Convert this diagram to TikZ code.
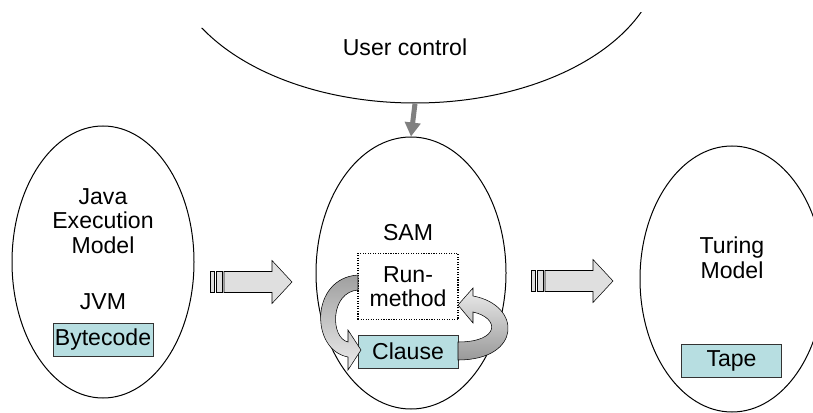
\documentclass[tikz,border=0pt]{standalone}
\usepackage{fontspec}
\setmainfont{Liberation Sans}
\usetikzlibrary{shapes.geometric, arrows.meta}
\definecolor{boxcyan}{RGB}{183,222,225}
\tikzset{
	blockarrow/.pic = {
		\draw [fill=gray!25] (0, -10.5) rectangle (4, 10.5);
		\draw [fill=gray!25] (6, -10.5) rectangle (12, 10.5);
		\draw [fill=gray!25] (14, -10.5) -- (62, -10.5) -- (62, -21.5) --
		      (82, 0) -- (62, 21.5) -- (62, 10.5) -- (14, 10.5) -- cycle;
	},
	model/.style = {draw, ellipse, inner sep=0pt, line width=0.75pt},
	cell/.style = {draw=black!80, fill=boxcyan, inner sep=0pt,
		minimum width=75pt, minimum height=25pt},
	txt/.style = {align=center, inner sep=0pt},
}

\begin{document}
\begin{tikzpicture}[x=0.75pt, y=-0.75pt, font=\fontsize{17.3}{18.4}\selectfont]
	\useasboundingbox (0, 0) rectangle (813, 413);
	\clip (0, 0) rectangle (813, 413);
	% the user: only the lower arc shows
	\begin{scope}
		\clip (0, 35.3) -- (813, 5.8) -- (813, 413) -- (0, 413) -- cycle;
		\node [model, minimum width=369pt, minimum height=225pt] (user) at (415, -47) {};
	\end{scope}
	% the three models
	\node [model, minimum width=136.5pt, minimum height=204pt] (java) at (103, 262) {};
	\node [model, minimum width=142.5pt, minimum height=204pt] (sam) at (411, 273) {};
	\node [model, minimum width=138pt, minimum height=199.5pt] (turing) at (732, 279) {};
	\node [txt] (usertxt) at (405, 47) {User control};
	\draw [gray, line width=3.75pt, -{Triangle[width=11.5pt, length=10.5pt]}] (user.south) -- (sam.north);
	% java
	\node [txt] (javatxt) at (103, 221) {Java\\Execution\\Model};
	\node [txt] (jvm) at (103, 302) {JVM};
	\node [cell] (bytecode) at (103, 340) {Bytecode};
	% sam
	\node [txt] (samtxt) at (408, 233) {SAM};
	\node [draw, densely dotted, line width=0.9pt, fill=white, align=center, inner sep=0pt,
		minimum width=75pt, minimum height=50pt] (run) at (408, 286.5) {Run-\\method};
	\node [cell] (clause) at (408, 351.5) {Clause};
	\path [draw, top color=gray!75, bottom color=gray!15]
		(358, 290) .. controls (330, 292) and (330, 338) .. (348, 342) --
		(348, 330) -- (361, 350) -- (348, 370) -- (348, 357)
		.. controls (310, 350) and (310, 278) .. (358, 275) -- cycle;
	\path [draw, top color=gray!15, bottom color=gray!80]
		(458, 342) .. controls (500, 342) and (500, 318) .. (473, 312) --
		(473, 323) -- (458, 305) -- (473, 288) -- (473, 296)
		.. controls (522, 305) and (522, 360) .. (458, 360) -- cycle;
	% turing
	\node [txt] (turingtxt) at (732, 258) {Turing\\Model};
	\node [cell] (tape) at (731.5, 361) {Tape};
	% arrows between the models
	\pic at (210, 282) {blockarrow};
	\pic at (531, 281) {blockarrow};
\end{tikzpicture}
\end{document}
